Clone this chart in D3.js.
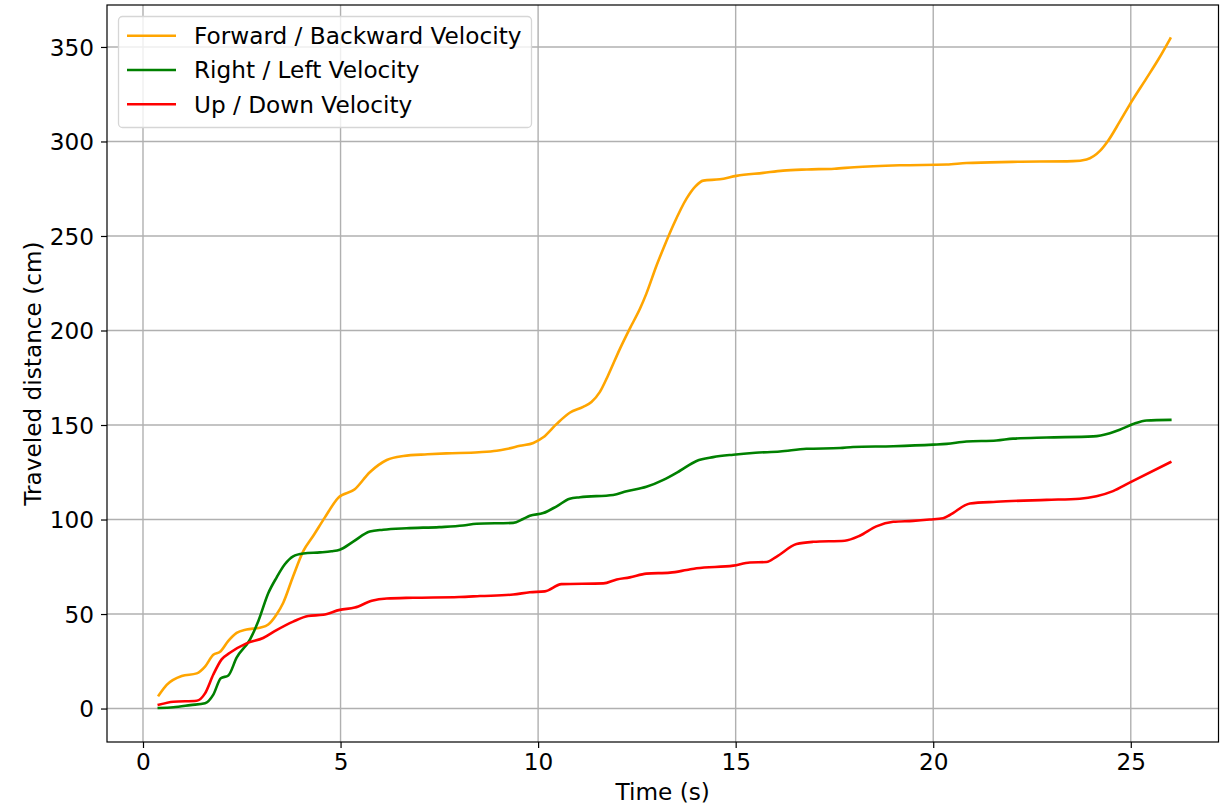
<!DOCTYPE html>
<html><head><meta charset="utf-8">
<script src="https://cdn.jsdelivr.net/npm/d3@7"></script>
<style>
html,body{margin:0;padding:0;background:#fff;}
svg{display:block;font-family:"DejaVu Sans",sans-serif;}
</style></head>
<body>
<svg id="c" width="1221" height="808"></svg>
<script>
// ---- data ----
const seriesNames = ["Forward / Backward Velocity", "Right / Left Velocity", "Up / Down Velocity"];
const seriesColors = ["orange", "green", "red"];

const fbTime = [0.4,0.6,0.98,1.36,1.57,1.78,1.95,2.16,2.37,2.62,2.96,3.17,3.38,3.55,3.8,4.06,4.31,4.6,4.94,5.36,5.74,6.17,6.59,7.2,7.68,8.5,8.95,9.2,9.54,9.88,10.13,10.47,10.8,11.14,11.35,11.56,11.77,12.07,12.32,12.58,12.74,13.0,13.17,13.42,13.76,13.97,14.18,14.6,15.02,15.7,16.2,16.8,17.5,18.0,19.15,20.34,20.84,22.0,23.54,23.88,24.22,24.43,24.72,24.97,25.4,25.7,26.0];
const fbDist = [7,12.5,17.2,18.6,22.2,28.5,30,35.8,40,41.8,42.8,44.5,49.8,56,70,83.4,91.4,101,111.5,116,125,131.5,133.6,134.5,135,135.6,136.4,137.3,139,140.5,143.5,150.6,156.5,159.6,162.2,167.4,176.2,190.3,201,211.6,219.5,234.5,243.4,255.7,269.9,276,279.3,280,281.8,283.4,284.6,285.2,285.6,286.4,287.4,287.8,288.6,289.2,289.6,290.5,295,300.5,310.5,319.4,333.5,343.5,354.5];

const rlTime = [0.4,0.77,1.2,1.57,1.78,1.97,2.16,2.37,2.71,2.92,3.17,3.38,3.59,3.8,4.06,4.48,4.77,4.98,5.32,5.74,6.08,6.67,7.5,8.1,8.44,9.37,9.62,9.79,10.13,10.47,10.8,11.06,11.9,12.24,12.74,13.17,13.59,14.01,14.43,14.94,15.5,16.12,16.79,17.64,17.97,18.99,20.0,20.34,20.84,21.6,22.02,22.87,24.05,24.47,24.72,25.06,25.4,26.0];
const rlDist = [0.3,0.7,1.8,2.8,7.4,16,17.5,26.9,36.6,46.3,61,69.3,76.3,80.5,82,82.6,83.2,84,88.3,93.6,94.6,95.4,96,96.8,97.8,98.2,100.3,102,103.4,107,111,111.8,113,115,117.3,121,125.8,131,133,134.3,135.3,136,137.4,137.8,138.4,138.8,139.6,140,141.3,141.8,142.8,143.4,144,145.7,147.5,150.5,152.4,152.7];

const udTime = [0.4,0.77,1.36,1.57,1.78,1.99,2.2,2.62,3.04,3.38,3.8,4.18,4.56,4.98,5.36,5.79,6.17,6.84,8.0,8.53,9.37,9.79,10.17,10.59,11.65,11.99,12.32,12.74,13.34,13.76,14.01,14.94,15.36,15.78,16.03,16.54,16.96,17.76,18.14,18.56,18.99,19.49,19.91,20.25,20.42,20.93,21.6,22.87,23.71,24.13,24.55,24.97,26.0];
const udDist = [2,3.6,4.1,8,18,26,29.5,34.5,37.3,41.5,46,49,49.6,52.2,53.4,57,58.2,58.6,59,59.5,60.3,61.5,62,65.8,66.2,68.3,69.4,71.4,71.9,73.3,74.2,75.6,77.3,77.5,80.3,87,88.2,88.8,91.4,96.4,98.8,99.3,100,100.7,102.4,108.5,109.4,110.4,111,112.3,115,119.5,130.3];

const xTicks = [0,5,10,15,20,25];
const yTicks = [0,50,100,150,200,250,300,350];
const xLabel = "Time (s)";
const yLabel = "Traveled distance (cm)";

// ---- layout ----
const L = 107, R = 1218.5, T = 5, B = 742;
const svg = d3.select("#c");
const x = d3.scaleLinear().domain([-0.911, 27.22]).range([L, R]);
const y = d3.scaleLinear().domain([-17.7, 372.2]).range([B, T]);
const FS = 23.2;

// grid
const g = svg.append("g");
g.selectAll("line.gx").data(xTicks).enter().append("line")
  .attr("x1", d => x(d)).attr("x2", d => x(d)).attr("y1", T).attr("y2", B)
  .attr("stroke", "#b0b0b0").attr("stroke-width", 1.4);
g.selectAll("line.gy").data(yTicks).enter().append("line")
  .attr("x1", L).attr("x2", R).attr("y1", d => y(d)).attr("y2", d => y(d))
  .attr("stroke", "#b0b0b0").attr("stroke-width", 1.4);

// lines
const sets = [[fbTime, fbDist], [rlTime, rlDist], [udTime, udDist]];
const line = d3.line().x(d => x(d[0])).y(d => y(d[1])).curve(d3.curveMonotoneX);
sets.forEach((s, i) => {
  const pts = s[0].map((t, k) => [t, s[1][k]]);
  svg.append("path").datum(pts).attr("d", line)
    .attr("fill", "none").attr("stroke", seriesColors[i])
    .attr("stroke-width", 2.6).attr("stroke-linejoin", "round").attr("stroke-linecap", "square");
});

// axes
const xAxis = d3.axisBottom(x).tickValues(xTicks).tickSize(6).tickPadding(6).tickFormat(d3.format("d"));
const yAxis = d3.axisLeft(y).tickValues(yTicks).tickSize(6).tickPadding(7).tickFormat(d3.format("d"));
const gx = svg.append("g").attr("transform", `translate(0,${B})`).call(xAxis);
const gy = svg.append("g").attr("transform", `translate(${L},0)`).call(yAxis);
[gx, gy].forEach(a => {
  a.select(".domain").remove();
  a.selectAll(".tick line").attr("stroke", "#000").attr("stroke-width", 1.2);
  a.selectAll(".tick text").attr("font-size", FS).attr("fill", "#000")
    .attr("font-family", "DejaVu Sans");
});
gy.selectAll(".tick text").attr("dy", "0.36em");
// frame
svg.append("rect").attr("x", L).attr("y", T).attr("width", R - L).attr("height", B - T)
  .attr("fill", "none").attr("stroke", "#000").attr("stroke-width", 1.2);

// axis labels
svg.append("text").attr("x", (L + R) / 2).attr("y", 800).attr("text-anchor", "middle")
  .attr("font-size", FS).text(xLabel);
svg.append("text").attr("transform", `translate(41,${(T + B) / 2}) rotate(-90)`)
  .attr("text-anchor", "middle").attr("font-size", FS).text(yLabel);

// legend
const lg = svg.append("g");
lg.append("rect").attr("x", 118.5).attr("y", 16.5).attr("width", 413).attr("height", 111)
  .attr("rx", 4).attr("fill", "rgba(255,255,255,0.8)").attr("stroke", "#d6d6d6").attr("stroke-width", 1.3);
seriesNames.forEach((n, i) => {
  const cy = 35.7 + i * 34.3;
  lg.append("line").attr("x1", 127).attr("x2", 176).attr("y1", cy).attr("y2", cy)
    .attr("stroke", seriesColors[i]).attr("stroke-width", 2.6);
  lg.append("text").attr("x", 194).attr("y", cy + 8.3).attr("font-size", FS).text(n);
});
</script>
</body></html>
